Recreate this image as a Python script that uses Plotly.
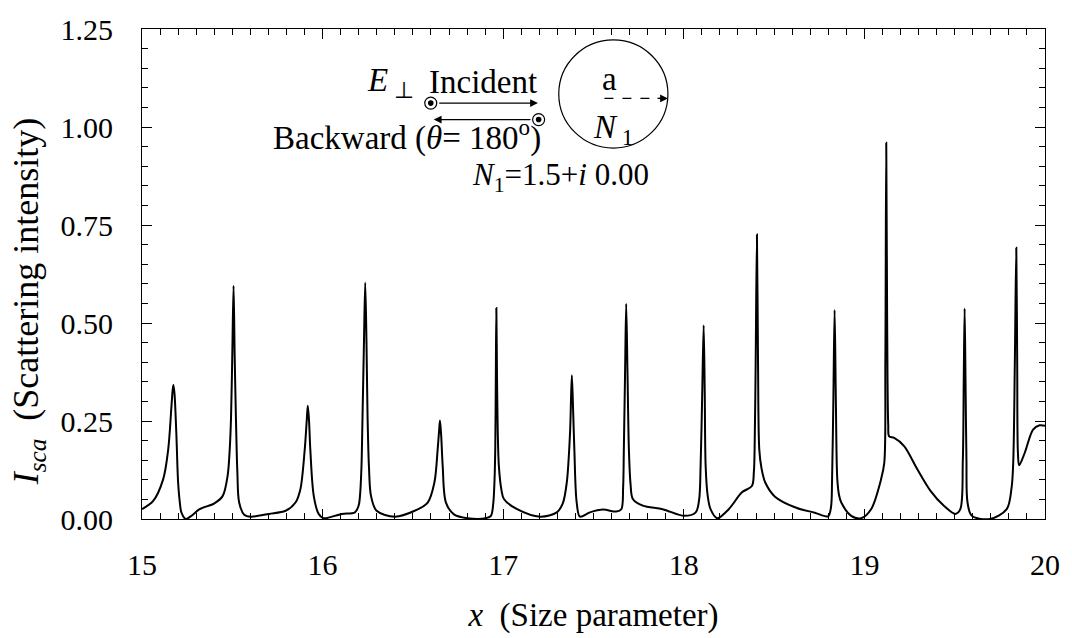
import plotly.graph_objects as go

# ---- data ----
size_param = [
    15.000, 15.062, 15.117, 15.145, 15.163, 15.170, 15.174, 15.180, 15.190, 15.200,
    15.210, 15.218, 15.242, 15.273, 15.319, 15.401, 15.447, 15.474, 15.486, 15.493,
    15.500, 15.507, 15.513, 15.520, 15.528, 15.538, 15.566, 15.603, 15.703, 15.795,
    15.850, 15.877, 15.901, 15.912, 15.918, 15.925, 15.932, 15.951, 15.978, 16.005,
    16.106, 16.179, 16.200, 16.207, 16.215, 16.221, 16.229, 16.236, 16.243, 16.249,
    16.257, 16.268, 16.299, 16.400, 16.510, 16.582, 16.619, 16.637, 16.645, 16.650,
    16.657, 16.665, 16.683, 16.729, 16.802, 16.903, 16.932, 16.945, 16.952, 16.956,
    16.959, 16.962, 16.966, 16.970, 16.976, 16.990, 17.004, 17.077, 17.205, 17.297,
    17.330, 17.352, 17.370, 17.380, 17.387, 17.394, 17.407, 17.425, 17.480, 17.553,
    17.626, 17.654, 17.664, 17.668, 17.675, 17.681, 17.688, 17.696, 17.705, 17.718,
    17.773, 17.883, 18.002, 18.066, 18.085, 18.093, 18.102, 18.110, 18.116, 18.121,
    18.132, 18.148, 18.185, 18.249, 18.322, 18.377, 18.388, 18.392, 18.398, 18.405,
    18.411, 18.418, 18.430, 18.451, 18.505, 18.615, 18.725, 18.799, 18.815, 18.821,
    18.828, 18.835, 18.842, 18.850, 18.860, 18.872, 18.927, 18.982, 19.037, 19.092,
    19.110, 19.116, 19.121, 19.126, 19.132, 19.137, 19.165, 19.220, 19.293, 19.366,
    19.440, 19.504, 19.531, 19.545, 19.550, 19.555, 19.560, 19.565, 19.571, 19.595,
    19.696, 19.788, 19.815, 19.824, 19.833, 19.841, 19.846, 19.850, 19.857, 19.888,
    19.934, 19.970, 20.000,
]
intensity = [
    0.025, 0.046, 0.101, 0.177, 0.287, 0.330, 0.342, 0.320, 0.220, 0.093,
    0.040, 0.017, 0.000, 0.008, 0.025, 0.040, 0.059, 0.110, 0.180, 0.260,
    0.420, 0.595, 0.420, 0.260, 0.120, 0.042, 0.011, 0.006, 0.013, 0.021,
    0.042, 0.076, 0.177, 0.250, 0.289, 0.250, 0.177, 0.059, 0.013, 0.002,
    0.013, 0.017, 0.035, 0.059, 0.130, 0.260, 0.450, 0.603, 0.450, 0.260,
    0.130, 0.059, 0.021, 0.006, 0.021, 0.042, 0.093, 0.177, 0.225, 0.251,
    0.210, 0.135, 0.042, 0.011, 0.002, 0.002, 0.008, 0.040, 0.100, 0.177,
    0.350, 0.538, 0.350, 0.220, 0.135, 0.075, 0.051, 0.025, 0.006, 0.017,
    0.040, 0.093, 0.219, 0.367, 0.280, 0.177, 0.042, 0.006, 0.017, 0.024,
    0.019, 0.025, 0.080, 0.177, 0.380, 0.549, 0.380, 0.177, 0.090, 0.051,
    0.034, 0.025, 0.008, 0.017, 0.050, 0.135, 0.320, 0.494, 0.320, 0.135,
    0.060, 0.025, 0.002, 0.025, 0.068, 0.084, 0.120, 0.177, 0.400, 0.726,
    0.400, 0.177, 0.130, 0.093, 0.057, 0.030, 0.016, 0.007, 0.030, 0.101,
    0.300, 0.533, 0.300, 0.101, 0.060, 0.042, 0.008, 0.002, 0.025, 0.101,
    0.143, 0.400, 0.960, 0.500, 0.240, 0.211, 0.207, 0.186, 0.127, 0.072,
    0.034, 0.013, 0.025, 0.150, 0.350, 0.537, 0.350, 0.150, 0.042, 0.008,
    0.000, 0.025, 0.080, 0.143, 0.400, 0.692, 0.400, 0.170, 0.137, 0.169,
    0.228, 0.239, 0.238,
]
x_ticks = [15, 16, 17, 18, 19, 20]
y_ticks = [0.00, 0.25, 0.50, 0.75, 1.00, 1.25]
y_tick_text = ["0.00", "0.25", "0.50", "0.75", "1.00", "1.25"]

# ---- geometry helpers for the inset drawing (pixel -> data) ----
L, R, T, B = 142, 1052, 26, 520
def px2x(px):
    return 15 + (px - L) / (R - L) * 5
def py2y(py):
    return (B - py) / (B - T) * 1.25

FONT = "Liberation Serif"
FS = 30
FS_ANN = 33

fig = go.Figure()
fig.add_trace(go.Scatter(
    x=size_param, y=intensity, mode="lines",
    line=dict(color="black", width=2, shape="spline", smoothing=0.9),
    showlegend=False, hoverinfo="skip", cliponaxis=True,
))

axis_common = dict(
    showline=True, linecolor="black", linewidth=1, mirror="ticks",
    ticks="inside", ticklen=10, tickwidth=1, tickcolor="black",
    showgrid=False, zeroline=False,
    tickfont=dict(family=FONT, size=FS, color="black"),
)

fig.update_xaxes(
    range=[15, 20], tickvals=x_ticks, ticktext=[str(v) for v in x_ticks],
    minor=dict(dtick=0.1, tick0=15, ticklen=6, ticks="inside", tickcolor="black", tickwidth=1),
    ticklabelstandoff=19,
    title=dict(text="<i>x</i>  (Size parameter)", font=dict(family=FONT, size=33, color="black"), standoff=22),
    **axis_common,
)
fig.update_yaxes(
    range=[0, 1.25], tickvals=y_ticks, ticktext=y_tick_text,
    minor=dict(dtick=0.05, tick0=0, ticklen=6, ticks="inside", tickcolor="black", tickwidth=1),
    ticklabelstandoff=22,
    title=dict(text="<i>I</i><sub><i>sca</i></sub>&nbsp;&nbsp;(Scattering intensity)"
                    "&nbsp;&nbsp;&nbsp;&nbsp;&nbsp;&nbsp;",
               font=dict(family=FONT, size=36, color="black"), standoff=10),
    **axis_common,
)

shapes = []
# sphere
shapes.append(dict(type="circle", xref="x", yref="y",
                   x0=px2x(562), x1=px2x(672), y0=py2y(146), y1=py2y(37),
                   line=dict(color="black", width=1.2)))
# dashed radius
shapes.append(dict(type="line", xref="x", yref="y",
                   x0=px2x(608), x1=px2x(664), y0=py2y(96), y1=py2y(96),
                   line=dict(color="black", width=1.2, dash="dash")))
# circle-dot polarisation symbols
for cx, cy in [(433, 100.7), (541.7, 117.3)]:
    shapes.append(dict(type="circle", xref="x", yref="y", xsizemode="pixel", ysizemode="pixel",
                       xanchor=px2x(cx), yanchor=py2y(cy), x0=-6, x1=6, y0=-6, y1=6,
                       line=dict(color="black", width=1.2), fillcolor="white"))
    shapes.append(dict(type="circle", xref="x", yref="y", xsizemode="pixel", ysizemode="pixel",
                       xanchor=px2x(cx), yanchor=py2y(cy), x0=-2.8, x1=2.8, y0=-2.8, y1=2.8,
                       line=dict(color="black", width=0), fillcolor="black"))

annotations = []
def arrow(x_from, x_to, py):
    annotations.append(dict(x=px2x(x_to), y=py2y(py), ax=px2x(x_from), ay=py2y(py),
                            xref="x", yref="y", axref="x", ayref="y", text="",
                            showarrow=True, arrowhead=2, arrowsize=1.2, arrowwidth=1.3,
                            arrowcolor="black"))
arrow(440, 541, 100.7)
arrow(535, 436, 117.3)
arrow(660, 672, 96)

def label(text, px, py, size=FS_ANN):
    annotations.append(dict(x=px2x(px), y=py2y(py), xref="x", yref="y", text=text,
                            showarrow=False, xanchor="center", yanchor="middle",
                            font=dict(family=FONT, size=size, color="black")))
label("<i>E</i><sub> ⊥</sub>", 392, 80)
label("Incident", 486, 79)
label("Backward (<i>θ</i>= 180<sup>o</sup>)", 409, 133)
label("<i>N</i><sub>1</sub>=1.5+<i>i</i> 0.00", 564, 175, size=31)
label("a", 613, 76)
label("<i>N</i><sub> 1</sub>", 617, 127)

fig.update_layout(
    width=1072, height=638,
    margin=dict(l=L, r=1072 - R, t=T, b=638 - B),
    plot_bgcolor="white", paper_bgcolor="white",
    shapes=shapes, annotations=annotations,
    showlegend=False,
)

fig.write_html("out.html", config={"displayModeBar": False},
               post_script="document.body.style.margin='0';document.body.style.overflow='hidden';")
